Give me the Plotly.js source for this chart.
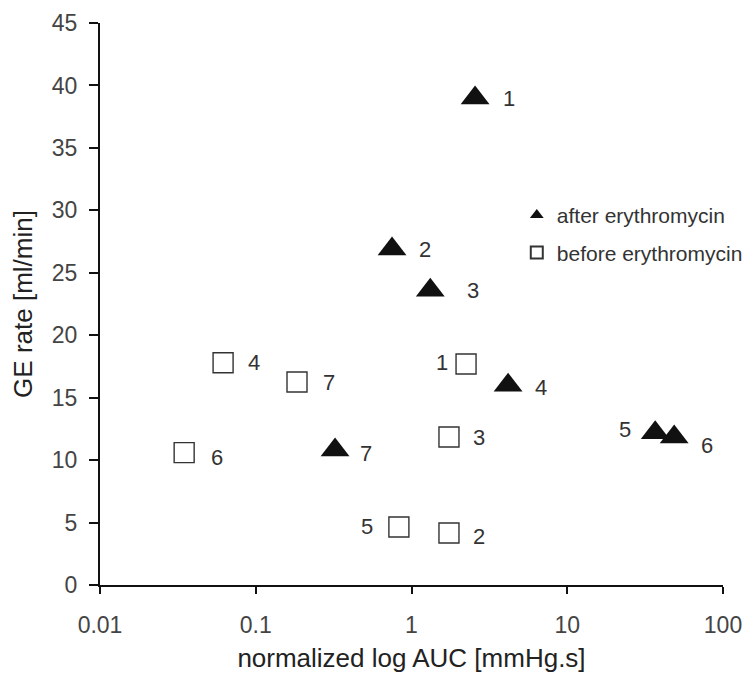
<!DOCTYPE html>
<html>
<head>
<meta charset="utf-8">
<script src="https://cdn.plot.ly/plotly-3.0.1.min.js"></script>
<style>html,body{margin:0;padding:0;background:#fff;}#chart{width:753px;height:680px;}</style>
</head>
<body>
<div id="chart"></div>
<script>
// Data
const afterIds = ["1","2","3","4","5","6","7"];
const afterAUC = [2.56, 0.75, 1.32, 4.17, 36.7, 48.6, 0.323];
const afterGE  = [39.0, 26.9, 23.6, 16.0, 12.2, 11.85, 10.8];

const beforeIds = ["1","2","3","4","5","6","7"];
const beforeAUC = [2.24, 1.74, 1.74, 0.0617, 0.83, 0.0347, 0.184];
const beforeGE  = [17.7, 4.16, 11.85, 17.8, 4.64, 10.6, 16.25];

const xTickVals = [0.01, 0.1, 1, 10, 100];
const xTickText = ["0.01", "0.1", "1", "10", "100"];
const yTickVals = [0, 5, 10, 15, 20, 25, 30, 35, 40, 45];

// label placement (pixel shifts), styling only
const afterShift  = [[34,-1],[33,0],[43,0],[33,-2],[-30,3],[33,-8],[31,-3]];
const beforeShift = [[-24,1],[30,-3],[30,0],[31,0],[-32,1],[33,-5],[32,0]];

const FONT = "Liberation Sans, Arial, sans-serif";
const labelFont = {family: FONT, size: 22, color: "#333"};

const traces = [
  {
    x: afterAUC, y: afterGE, type: "scatter", mode: "markers",
    name: "after erythromycin", legendgroup: "a",
    marker: {symbol: "triangle-up", size: 25, color: "#111", line: {width: 0}},
    cliponaxis: false
  },
  {
    x: beforeAUC, y: beforeGE, type: "scatter", mode: "markers",
    name: "before erythromycin", legendgroup: "b",
    marker: {symbol: "square-open", size: 20, color: "#333", line: {width: 1.4, color: "#333"}},
    cliponaxis: false
  }
];

const annotations = [];
afterIds.forEach((t, i) => annotations.push({
  x: Math.log10(afterAUC[i]), y: afterGE[i], xref: "x", yref: "y", text: t,
  showarrow: false, xshift: afterShift[i][0], yshift: afterShift[i][1], font: labelFont
}));
beforeIds.forEach((t, i) => annotations.push({
  x: Math.log10(beforeAUC[i]), y: beforeGE[i], xref: "x", yref: "y", text: t,
  showarrow: false, xshift: beforeShift[i][0], yshift: beforeShift[i][1], font: labelFont
}));

const layout = {
  width: 753, height: 680,
  margin: {l: 100, r: 30, t: 23, b: 95, autoexpand: false},
  paper_bgcolor: "#fff", plot_bgcolor: "#fff",
  font: {family: FONT, color: "#333"},
  showlegend: true,
  legend: {
    x: 0.669, y: 0.694, xanchor: "left", yanchor: "top",
    font: {size: 21, color: "#333"},
    itemsizing: "constant", itemwidth: 30,
    traceorder: "grouped", tracegroupgap: 7,
    bgcolor: "rgba(0,0,0,0)"
  },
  xaxis: {
    type: "log", range: [-2, 2],
    tickvals: xTickVals, ticktext: xTickText,
    showgrid: false, zeroline: false,
    showline: true, linecolor: "#111", linewidth: 2,
    ticks: "outside", ticklen: 7, tickwidth: 2, tickcolor: "#111",
    ticklabelstandoff: 11,
    tickfont: {size: 23, color: "#444"},
    title: {text: "normalized log AUC [mmHg.s]", font: {size: 26, color: "#222"}, standoff: 12}
  },
  yaxis: {
    range: [0, 45], tickvals: yTickVals,
    showgrid: false, zeroline: false,
    showline: true, linecolor: "#111", linewidth: 2,
    ticks: "outside", ticklen: 9, tickwidth: 2, tickcolor: "#111",
    ticklabelstandoff: 7,
    tickfont: {size: 23, color: "#444"},
    title: {text: "GE rate [ml/min]", font: {size: 26, color: "#222"}, standoff: 12}
  },
  annotations: annotations
};

Plotly.newPlot("chart", traces, layout, {staticPlot: true, displayModeBar: false});
</script>
</body>
</html>
